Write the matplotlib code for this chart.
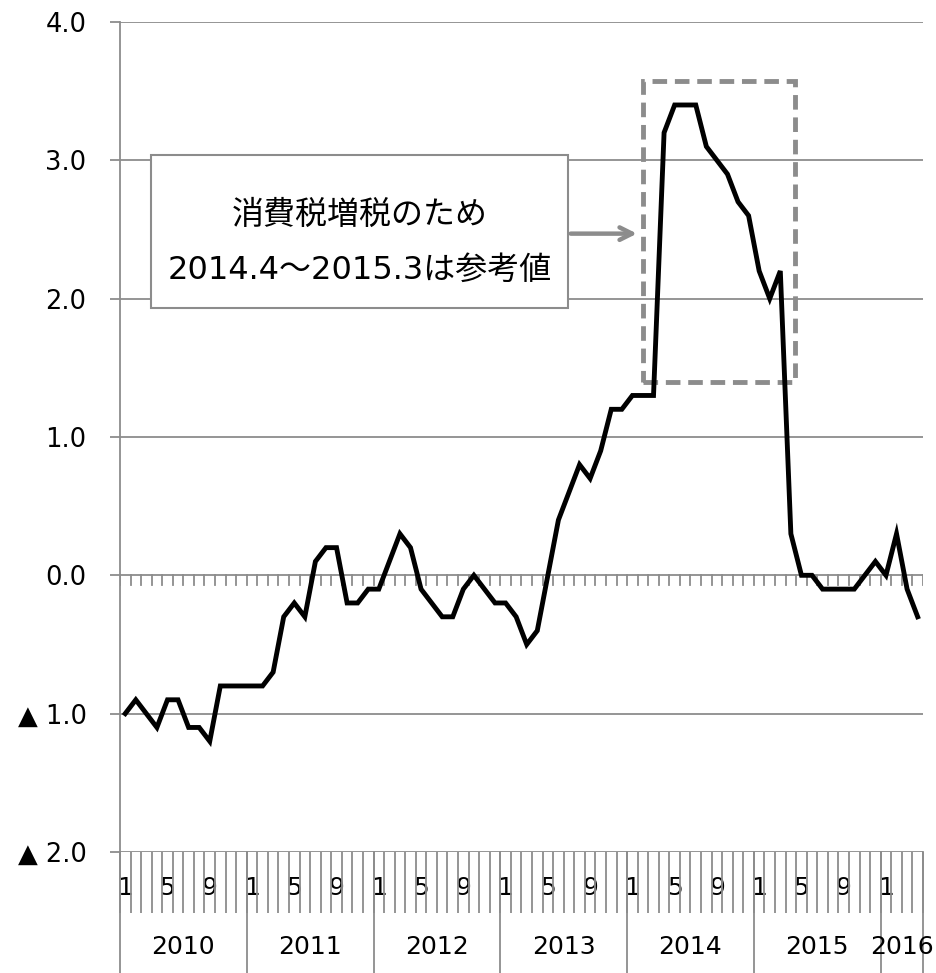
import matplotlib
matplotlib.use("Agg")
import matplotlib.pyplot as plt
import matplotlib.transforms as mtransforms
from matplotlib.patches import Rectangle

# DejaVu for latin digits (wide, like Meiryo), Noto CJK for Japanese
plt.rcParams['font.family'] = ['DejaVu Sans', 'Noto Sans CJK JP']

# monthly values, 2010.1 - 2016.4
values = [
    -1.0, -0.9, -1.0, -1.1, -0.9, -0.9, -1.1, -1.1, -1.2, -0.8, -0.8, -0.8,   # 2010
    -0.8, -0.8, -0.7, -0.3, -0.2, -0.3, 0.1, 0.2, 0.2, -0.2, -0.2, -0.1,      # 2011
    -0.1, 0.1, 0.3, 0.2, -0.1, -0.2, -0.3, -0.3, -0.1, 0.0, -0.1, -0.2,       # 2012
    -0.2, -0.3, -0.5, -0.4, 0.0, 0.4, 0.6, 0.8, 0.7, 0.9, 1.2, 1.2,           # 2013
    1.3, 1.3, 1.3, 3.2, 3.4, 3.4, 3.4, 3.1, 3.0, 2.9, 2.7, 2.6,               # 2014
    2.2, 2.0, 2.2, 0.3, 0.0, 0.0, -0.1, -0.1, -0.1, -0.1, 0.0, 0.1,           # 2015
    0.0, 0.3, -0.1, -0.3,                                                     # 2016
]
years = ['2010', '2011', '2012', '2013', '2014', '2015', '2016']
months_per_year = [12, 12, 12, 12, 12, 12, 4]
month_labels = ['1', '5', '9']
y_ticks = [4.0, 3.0, 2.0, 1.0, 0.0, -1.0, -2.0]
y_labels = ['4.0', '3.0', '2.0', '1.0', '0.0', '▲ 1.0', '▲ 2.0']
note_lines = ['消費税増税のため', '2014.4～2015.3は参考値']

grey = '#8c8c8c'
n = len(values)
x = list(range(n))

fig = plt.figure(figsize=(9.37, 9.73), dpi=100)
ax = fig.add_axes([0.128, 0.1244, 0.857, 0.853])

ax.set_xlim(-0.5, n - 0.5)
ax.set_ylim(-2.0, 4.0)

# horizontal gridlines
for yv in y_ticks:
    ax.axhline(yv, color=grey, lw=1.3, zorder=1)

for s in ['top', 'right', 'bottom']:
    ax.spines[s].set_visible(False)
ax.spines['left'].set_color(grey)
ax.spines['left'].set_linewidth(1.3)

ax.set_yticks(y_ticks)
ax.set_yticklabels(y_labels, fontsize=18.5)
ax.tick_params(axis='y', length=7, width=1.3, color=grey, pad=17)

# month tick marks on the zero line
for b in range(n + 1):
    ax.plot([b - 0.5, b - 0.5], [0, -0.07], color=grey, lw=1.3, zorder=1)

# category axis at the bottom
ax.set_xticks([b - 0.5 for b in range(n + 1)], minor=True)
ax.tick_params(axis='x', which='minor', length=44, width=1.3, color=grey, direction='out')
centers = []
labels = []
start = 0
for cnt in months_per_year:
    for m in range(cnt):
        if str(m + 1) in month_labels:
            centers.append(start + m)
            labels.append(str(m + 1))
    start += cnt
ax.set_xticks(centers)
ax.set_xticklabels(labels, fontsize=18)
ax.tick_params(axis='x', which='major', length=0, pad=17)

trans = mtransforms.blended_transform_factory(ax.transData, ax.transAxes)
start = 0
for yr, cnt in zip(years, months_per_year):
    ax.plot([start - 0.5, start - 0.5], [0, -0.147], color=grey, lw=1.3,
            transform=trans, clip_on=False)
    ax.text(start + cnt / 2 - 0.5, -0.115, yr, transform=trans, ha='center',
            va='center', fontsize=18)
    start += cnt
ax.plot([n - 0.5, n - 0.5], [0, -0.147], color=grey, lw=1.3,
        transform=trans, clip_on=False)

# data line
ax.plot(x, values, color='black', lw=3.5, solid_joinstyle='miter', zorder=4)

# dashed box around reference period
ax.add_patch(Rectangle((49.0, 1.40), 14.4, 2.17, fill=False, edgecolor=grey,
                       lw=3.5, linestyle=(0, (3, 1.6)), zorder=3))

# note box and arrow
ax.annotate('', xy=(48.7, 2.47), xytext=(41.9, 2.47),
            arrowprops=dict(arrowstyle='->,head_length=0.9,head_width=0.45',
                            color=grey, lw=3.2), zorder=3)
ax.add_patch(Rectangle((2.44, 1.93), 39.46, 1.11, facecolor='white',
                       edgecolor=grey, lw=1.5, zorder=3))
ax.text(22.2, 2.60, note_lines[0], ha='center', va='center', fontsize=23, zorder=4)
ax.text(22.2, 2.205, note_lines[1], ha='center', va='center', fontsize=23, zorder=4)

fig.savefig('out.png', dpi=100)
